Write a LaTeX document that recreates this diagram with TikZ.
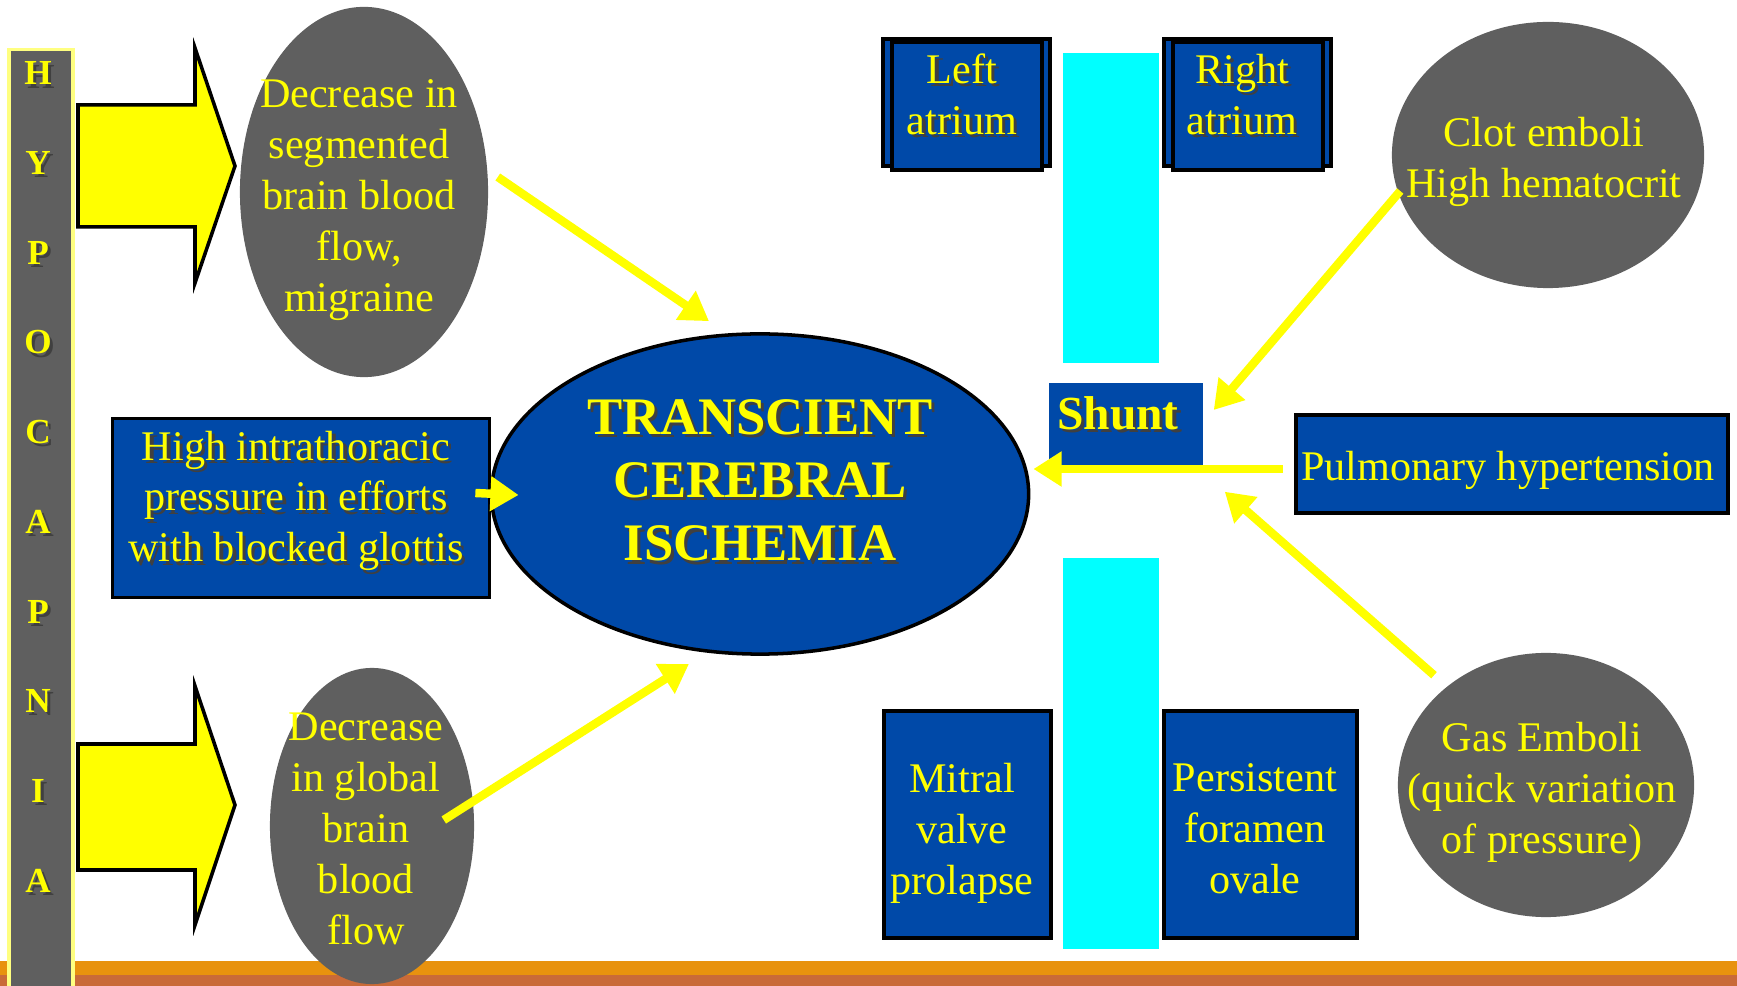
\documentclass[tikz,border=0pt]{standalone}
\usepackage{fontspec}
\setmainfont{Liberation Serif}
\usepackage{tikz}
\usetikzlibrary{arrows.meta,calc,positioning,shapes.geometric}
\definecolor{koyuMavi}{HTML}{0049A8}
\definecolor{sari}{HTML}{FFFF00}
\definecolor{griTon}{HTML}{5F5F5F}
\definecolor{camgobegi}{HTML}{00FFFF}
\definecolor{turuncu}{HTML}{E8920E}
\definecolor{kiremit}{HTML}{C96A38}
% golgeli yazi
\newcommand{\gl}[1]{\makebox[0pt][l]{\hspace{0.9pt}\raisebox{-0.9pt}{\textcolor{black!75}{#1}}}#1}

\begin{document}
\begin{tikzpicture}[x=0.01cm, y=-0.01cm,
  every node/.style={font=\fontsize{12pt}{14.5pt}\selectfont, text=sari, align=center, inner sep=0pt},
  kutu/.style={draw=black, line width=1pt, fill=koyuMavi},
  gri/.style={ellipse, fill=griTon},
  ok/.style={sari, line width=2.4pt, -{Triangle[length=8pt,width=9.5pt]}},
  blok/.style={draw=black, line width=1pt, fill=sari, line join=miter}]
\useasboundingbox (0,0) rectangle (1737,986);
% alt serit
\fill[turuncu] (0,961) rectangle (1737,975);
\fill[kiremit] (0,975) rectangle (1737,986);
% HYPOCAPNIA
\node[fill=griTon, draw=sari!50, line width=1pt, minimum width=0.64cm, minimum height=9.40cm] (bar) at (41,520) {};
\foreach \harf [count=\i] in {H,Y,P,O,C,A,P,N,I,A}
  \node[font=\fontsize{10pt}{12pt}\selectfont\bfseries] (h\i) at (38,{75+89.7*(\i-1)}) {\gl{\harf}};
\draw[blok] (78,105) -- (195,105) -- (195,48) -- (235,166) -- (195,283) -- (195,227) -- (78,227) -- cycle;
\draw[blok] (78,744) -- (195,744) -- (195,686) -- (235,805) -- (195,925) -- (195,870) -- (78,870) -- cycle;
% sol taraf
\node[gri, minimum width=2.48cm, minimum height=3.70cm] (e1) at (364,192) {};
\node (e1y) at (359,200) {Decrease in\\segmented\\brain blood\\flow,\\migraine};
\node[gri, minimum width=2.04cm, minimum height=3.16cm] (e2) at (372,826) {};
\node (e2y) at (366,829) {Decrease\\in global\\brain\\blood\\flow};
\node[kutu, minimum width=3.77cm, minimum height=1.79cm] (yuk) at (301,508) {};
\node (yuky) at (296,502.5) {\gl{High intrathoracic}\\\gl{pressure in efforts}\\\gl{with blocked glottis}};
% merkez
\node[ellipse, draw=black, line width=1pt, fill=koyuMavi, minimum width=5.37cm, minimum height=3.20cm] (tci) at (760,494) {};
\node[font=\fontsize{15pt}{18pt}\selectfont\bfseries] (tciy) at (760,482) {\gl{TRANSCIENT}\\\gl{CEREBRAL}\\\gl{ISCHEMIA}};
% kalp
\draw[kutu] (883,39) rectangle (1050,166);
\node[kutu, minimum width=1.50cm, minimum height=1.28cm] (sol) at (967,106) {};
\node (soly) at (962,96) {\gl{Left}\\\gl{atrium}};
\draw[kutu] (1164,39) rectangle (1331,166);
\node[kutu, minimum width=1.50cm, minimum height=1.28cm] (sag) at (1248,106) {};
\node (sagy) at (1242,96) {\gl{Right}\\\gl{atrium}};
\node[fill=camgobegi, minimum width=0.96cm, minimum height=3.10cm] (ust) at (1111,208) {};
\node[fill=camgobegi, minimum width=0.96cm, minimum height=3.91cm] (alt) at (1111,753.5) {};
\node[fill=koyuMavi, minimum width=1.54cm, minimum height=0.82cm] (sant) at (1126,424) {};
\node[font=\fontsize{13.5pt}{16pt}\selectfont\bfseries] (santy) at (1118,415) {\gl{Shunt}};
\node[kutu, minimum width=4.32cm, minimum height=0.98cm] (pulm) at (1512,464) {};
\node (pulmy) at (1508,470.5) {Pulmonary hypertension};
\node[kutu, minimum width=1.67cm, minimum height=2.27cm] (mit) at (967.5,824.5) {};
\node (mity) at (962,833.5) {Mitral\\valve\\prolapse};
\node[kutu, minimum width=1.93cm, minimum height=2.27cm] (pfo) at (1260.5,824.5) {};
\node (pfoy) at (1255,829) {Persistent\\foramen\\ovale};
% emboliler
\node[gri, minimum width=3.12cm, minimum height=2.66cm] (pht) at (1548,155) {};
\node (phty) at (1544,162) {Clot emboli\\High hematocrit};
\node[gri, minimum width=2.96cm, minimum height=2.64cm] (gaz) at (1546,785) {};
\node (gazy) at (1542,792) {Gas Emboli\\(quick variation\\of pressure)};
% oklar
\draw[ok] ([shift={(9,-15)}]e1.east) -- ([shift={(-51,-11)}]tci.north);
\draw[ok] ([shift={(-31,-6)}]e2.east) -- ([shift={(-71,8)}]tci.south);
\draw[ok] ([shift={(-16,-15)}]yuk.east) -- ([shift={(29,1)}]tci.west);
\draw[ok] ([shift={(-11,5)}]pulm.west) -- ([shift={(3,-25)}]tci.east);
\draw[ok] ([shift={(9,36)}]pht.west) -- ([shift={(10,-14)}]sant.east);
\draw[ok] ([shift={(-112,23)}]gaz.north) -- ([shift={(21,26)}]sant.south east);
\end{tikzpicture}
\end{document}
